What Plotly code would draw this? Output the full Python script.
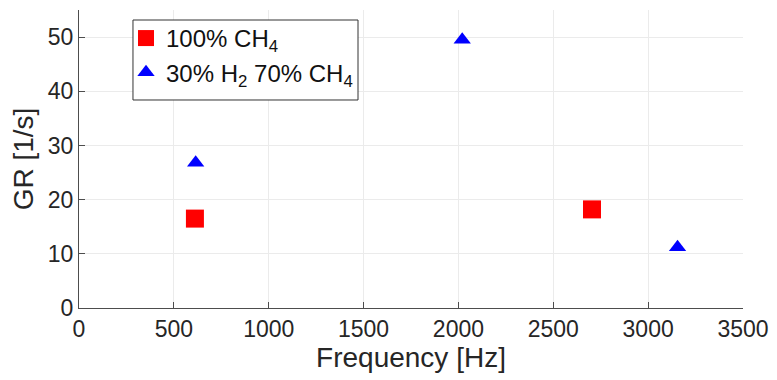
import plotly.graph_objects as go

ch4_freq = [611, 2704]
ch4_gr = [16.5, 18.2]
h2_freq = [615, 2020, 3155]
h2_gr = [26.8, 49.5, 11.2]

xticks = [0, 500, 1000, 1500, 2000, 2500, 3000, 3500]
yticks = [0, 10, 20, 30, 40, 50]

fig = go.Figure()
fig.add_trace(go.Scatter(x=ch4_freq, y=ch4_gr, mode="markers", name="100% CH<sub>4</sub>",
                         marker=dict(symbol="square", size=18, color="#ff0000")))
fig.add_trace(go.Scatter(x=h2_freq, y=h2_gr, mode="markers", name="30% H<sub>2</sub> 70% CH<sub>4</sub>",
                         marker=dict(symbol="triangle-up", size=15, color="#0000ff")))

tickfont = dict(size=23, color="#262626")
titlefont = dict(size=28, color="#262626")

axis_common = dict(showgrid=True, gridcolor="#ebebeb", gridwidth=1, zeroline=False,
                   showline=True, linecolor="#4d4d4d", linewidth=1, mirror=False,
                   ticks="inside", ticklen=6, tickcolor="#4d4d4d", tickfont=tickfont)

fig.update_xaxes(range=[0, 3500], tickvals=xticks,
                 title=dict(text="Frequency [Hz]", font=titlefont, standoff=2), **axis_common)
fig.update_yaxes(range=[0, 55], tickvals=yticks,
                 title=dict(text="GR [1/s]", font=titlefont, standoff=8), **axis_common)

# legend frame (page 133-358 x 20-100)
fig.add_shape(type="rect", xref="paper", yref="paper", x0=0.0813, x1=0.4202, y0=0.698, y1=0.9664,
              line=dict(color="#333333", width=1), fillcolor="white", layer="above")

fig.update_layout(
    width=777, height=380,
    margin=dict(l=71, r=42, t=2, b=80),
    paper_bgcolor="white", plot_bgcolor="white",
    font=dict(family="Liberation Sans, Arial, sans-serif", color="#262626"),
    showlegend=True,
    xaxis2=dict(overlaying="x", matches="x", side="top", range=[0, 3500], tickvals=xticks,
                showticklabels=False, showgrid=False, zeroline=False, showline=True,
                linecolor="#b0b0b0", linewidth=1, ticks="inside", ticklen=6, tickcolor="#888888"),
    yaxis2=dict(overlaying="y", matches="y", side="right", range=[0, 55], tickvals=yticks,
                showticklabels=False, showgrid=False, zeroline=False, showline=True,
                linecolor="#b0b0b0", linewidth=1, ticks="inside", ticklen=6, tickcolor="#888888"),
    legend=dict(x=0.0708, y=0.98, xanchor="left", yanchor="top",
                bgcolor="rgba(0,0,0,0)", borderwidth=0,
                font=dict(size=24, color="#111111"), itemsizing="trace",
                itemwidth=30),
)

fig.write_html("out.html")
